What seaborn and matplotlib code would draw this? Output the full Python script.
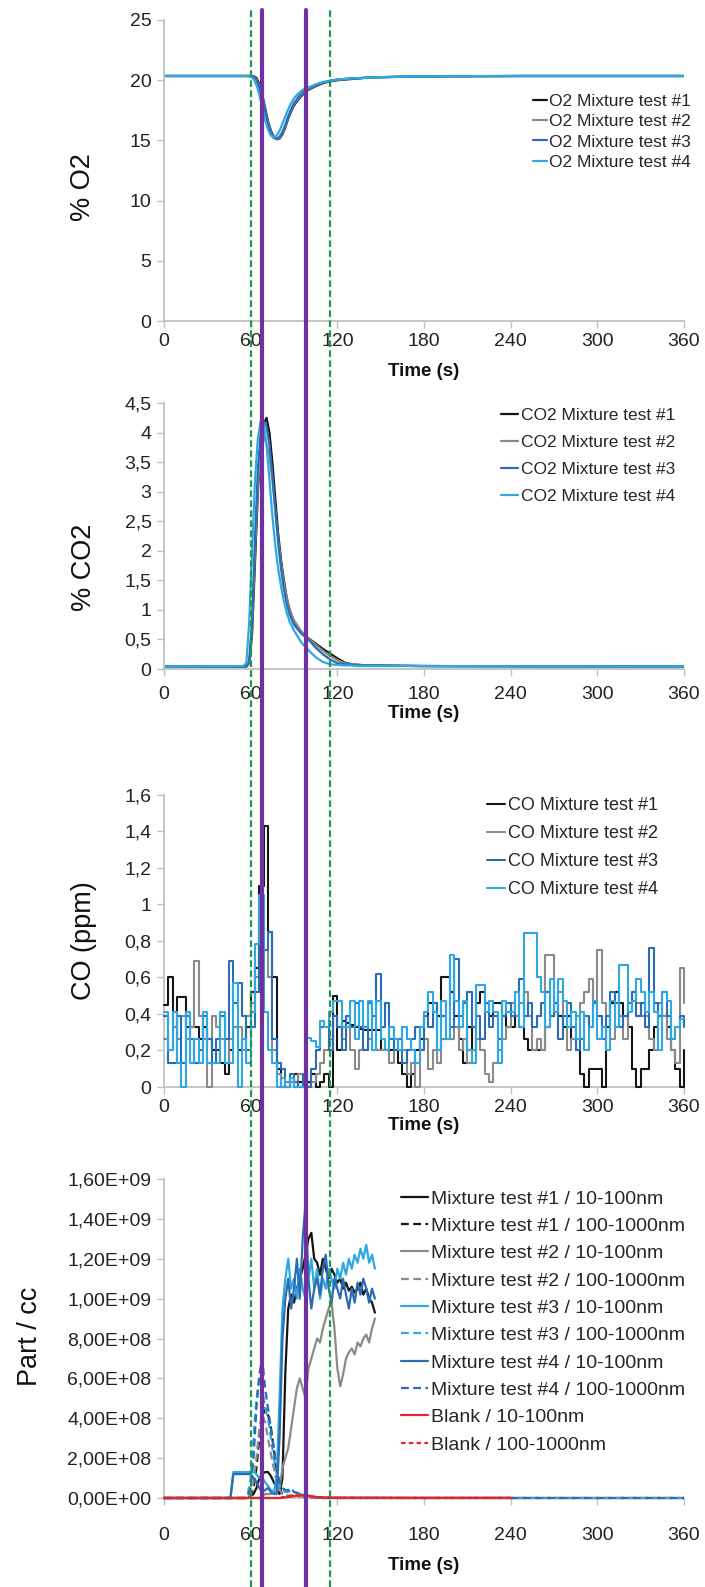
#python 3 script to plot the gas / particle time series of the mixture tests
import numpy as np
import seaborn as sns
import matplotlib.pyplot as plt
from matplotlib.ticker import FuncFormatter, MultipleLocator

sns.set_theme(style="white")
plt.rcParams['font.family'] = ['Liberation Sans', 'DejaVu Sans']

time_ticks = [0, 60, 120, 180, 240, 300, 360]
# event markers (s)
green_marks = [60, 115]
purple_marks = [67.5, 98.5]

# ---- O2 (%) ----
t_o2 = [0, 56, 58, 60, 62, 64, 66, 68, 70, 72, 74, 76, 78, 80, 82, 84, 86, 88, 90,
        93, 96, 100, 105, 110, 115, 120, 130, 140, 150, 170, 200, 250, 300, 360]
o2_1 = [20.35, 20.35, 20.35, 20.35, 20.33, 20.2, 19.7, 18.8, 17.7, 16.6, 15.8, 15.3, 15.1, 15.15, 15.5, 16.1, 16.8, 17.4, 17.9,
        18.4, 18.8, 19.2, 19.5, 19.75, 19.9, 20.0, 20.1, 20.2, 20.25, 20.3, 20.33, 20.35, 20.35, 20.35]
o2_2 = [20.35, 20.35, 20.35, 20.35, 20.3, 20.1, 19.5, 18.6, 17.5, 16.5, 15.7, 15.25, 15.1, 15.2, 15.6, 16.2, 16.9, 17.5, 18.0,
        18.5, 18.9, 19.25, 19.55, 19.8, 19.95, 20.05, 20.15, 20.2, 20.25, 20.3, 20.33, 20.35, 20.35, 20.35]
o2_3 = [20.35, 20.35, 20.35, 20.35, 20.3, 20.0, 19.4, 18.5, 17.4, 16.4, 15.6, 15.2, 15.15, 15.3, 15.7, 16.3, 17.0, 17.6, 18.1,
        18.6, 19.0, 19.3, 19.6, 19.8, 19.95, 20.05, 20.15, 20.2, 20.25, 20.3, 20.33, 20.35, 20.35, 20.35]
o2_4 = [20.35, 20.35, 20.35, 20.3, 20.1, 19.6, 18.8, 17.8, 16.7, 15.9, 15.4, 15.25, 15.4, 15.8, 16.4, 17.0, 17.6, 18.1, 18.5,
        18.9, 19.2, 19.4, 19.65, 19.85, 19.95, 20.05, 20.15, 20.2, 20.25, 20.3, 20.33, 20.35, 20.35, 20.35]

# ---- CO2 (%) ----
t_co2 = [0, 55, 57, 59, 61, 63, 65, 67, 69, 71, 73, 75, 77, 79, 81, 83, 85, 87, 90,
         95, 100, 105, 110, 115, 120, 125, 130, 135, 140, 180, 360]
co2_1 = [0.04, 0.04, 0.04, 0.1, 0.6, 1.8, 3.0, 3.8, 4.15, 4.25, 4.0, 3.5, 2.9, 2.3, 1.85, 1.5, 1.2, 1.0, 0.8,
         0.62, 0.52, 0.43, 0.34, 0.26, 0.18, 0.11, 0.08, 0.07, 0.06, 0.05, 0.04]
co2_2 = [0.04, 0.04, 0.04, 0.12, 0.7, 2.0, 3.1, 3.7, 3.95, 3.8, 3.6, 3.2, 2.7, 2.2, 1.8, 1.45, 1.2, 1.0, 0.82,
         0.64, 0.52, 0.41, 0.31, 0.22, 0.15, 0.1, 0.08, 0.07, 0.06, 0.05, 0.04]
co2_3 = [0.04, 0.04, 0.04, 0.15, 0.8, 2.2, 3.4, 4.0, 4.2, 4.1, 3.8, 3.3, 2.7, 2.15, 1.7, 1.35, 1.1, 0.92, 0.75,
         0.6, 0.5, 0.36, 0.25, 0.16, 0.1, 0.08, 0.07, 0.06, 0.06, 0.05, 0.04]
co2_4 = [0.04, 0.05, 0.1, 0.8, 2.0, 3.2, 3.9, 4.2, 4.15, 3.8, 3.2, 2.6, 2.1, 1.7, 1.4, 1.15, 0.95, 0.8, 0.65,
         0.45, 0.32, 0.2, 0.12, 0.08, 0.07, 0.06, 0.06, 0.05, 0.05, 0.05, 0.04]

# ---- CO (ppm), one reading every 3 s ----
t_co = np.arange(0, 361, 3)
co_1 = [0.45, 0.60, 0.33, 0.49, 0.49, 0.33, 0.33, 0.33, 0.26, 0.33,
        0.26, 0.20, 0.20, 0.13, 0.07, 0.20, 0.33, 0.20, 0.26, 0.33,
        0.52, 0.65, 1.10, 1.43, 0.85, 0.60, 0.10, 0.00, 0.00, 0.03,
        0.07, 0.03, 0.00, 0.03, 0.07, 0.00, 0.03, 0.07, 0.00, 0.50,
        0.20, 0.36, 0.35, 0.34, 0.33, 0.32, 0.31, 0.31, 0.31, 0.31,
        0.20, 0.20, 0.20, 0.20, 0.13, 0.07, 0.00, 0.07, 0.20, 0.26,
        0.39, 0.46, 0.46, 0.39, 0.60, 0.60, 0.52, 0.39, 0.26, 0.13,
        0.33, 0.20, 0.46, 0.52, 0.46, 0.39, 0.46, 0.46, 0.39, 0.33,
        0.33, 0.39, 0.33, 0.26, 0.20, 0.20, 0.20, 0.20, 0.33, 0.39,
        0.46, 0.39, 0.33, 0.39, 0.26, 0.20, 0.07, 0.00, 0.10, 0.10,
        0.10, 0.00, 0.33, 0.46, 0.52, 0.46, 0.39, 0.33, 0.10, 0.00,
        0.10, 0.10, 0.20, 0.33, 0.39, 0.39, 0.33, 0.20, 0.10, 0.00,
        0.20]
co_2 = [0.26, 0.20, 0.33, 0.26, 0.39, 0.26, 0.33, 0.69, 0.39, 0.26,
        0.00, 0.39, 0.33, 0.26, 0.13, 0.26, 0.33, 0.33, 0.20, 0.39,
        0.46, 0.60, 0.90, 0.75, 0.60, 0.20, 0.07, 0.00, 0.03, 0.03,
        0.00, 0.07, 0.00, 0.00, 0.03, 0.07, 0.13, 0.20, 0.26, 0.39,
        0.33, 0.26, 0.33, 0.20, 0.10, 0.20, 0.20, 0.26, 0.20, 0.20,
        0.20, 0.20, 0.13, 0.26, 0.20, 0.20, 0.07, 0.13, 0.00, 0.20,
        0.26, 0.10, 0.20, 0.13, 0.26, 0.26, 0.26, 0.33, 0.20, 0.26,
        0.13, 0.20, 0.26, 0.20, 0.07, 0.03, 0.13, 0.20, 0.26, 0.33,
        0.46, 0.39, 0.46, 0.52, 0.39, 0.20, 0.26, 0.20, 0.72, 0.72,
        0.46, 0.52, 0.39, 0.20, 0.26, 0.39, 0.46, 0.52, 0.59, 0.46,
        0.75, 0.46, 0.39, 0.26, 0.46, 0.39, 0.26, 0.46, 0.52, 0.46,
        0.39, 0.39, 0.26, 0.20, 0.46, 0.39, 0.26, 0.20, 0.13, 0.65,
        0.46]
co_3 = [0.39, 0.13, 0.13, 0.39, 0.13, 0.39, 0.26, 0.13, 0.20, 0.39,
        0.26, 0.13, 0.26, 0.39, 0.26, 0.69, 0.46, 0.57, 0.39, 0.20,
        0.33, 0.52, 0.80, 0.75, 0.85, 0.26, 0.13, 0.10, 0.00, 0.07,
        0.03, 0.00, 0.07, 0.00, 0.10, 0.20, 0.33, 0.33, 0.20, 0.39,
        0.33, 0.20, 0.39, 0.33, 0.46, 0.33, 0.20, 0.46, 0.39, 0.62,
        0.33, 0.46, 0.26, 0.20, 0.26, 0.13, 0.20, 0.26, 0.33, 0.20,
        0.39, 0.33, 0.46, 0.20, 0.39, 0.26, 0.33, 0.70, 0.39, 0.46,
        0.52, 0.33, 0.39, 0.26, 0.46, 0.33, 0.39, 0.26, 0.39, 0.46,
        0.39, 0.52, 0.59, 0.39, 0.46, 0.33, 0.39, 0.46, 0.52, 0.39,
        0.46, 0.26, 0.39, 0.46, 0.33, 0.20, 0.26, 0.39, 0.33, 0.46,
        0.39, 0.26, 0.39, 0.52, 0.46, 0.33, 0.39, 0.46, 0.52, 0.39,
        0.46, 0.33, 0.76, 0.46, 0.39, 0.52, 0.39, 0.26, 0.33, 0.39,
        0.33]
co_4 = [0.41, 0.20, 0.41, 0.13, 0.00, 0.41, 0.13, 0.26, 0.13, 0.41,
        0.13, 0.13, 0.13, 0.41, 0.13, 0.13, 0.57, 0.00, 0.26, 0.13,
        0.41, 0.78, 1.05, 0.41, 0.20, 0.13, 0.00, 0.05, 0.00, 0.05,
        0.00, 0.00, 0.00, 0.27, 0.25, 0.22, 0.36, 0.33, 0.41, 0.47,
        0.47, 0.33, 0.33, 0.47, 0.26, 0.47, 0.33, 0.47, 0.20, 0.47,
        0.26, 0.20, 0.33, 0.26, 0.20, 0.33, 0.26, 0.20, 0.13, 0.33,
        0.41, 0.52, 0.41, 0.20, 0.47, 0.26, 0.72, 0.47, 0.33, 0.47,
        0.20, 0.13, 0.56, 0.56, 0.41, 0.47, 0.41, 0.13, 0.47, 0.41,
        0.41, 0.52, 0.33, 0.84, 0.84, 0.84, 0.60, 0.52, 0.33, 0.59,
        0.41, 0.59, 0.47, 0.33, 0.41, 0.26, 0.41, 0.20, 0.33, 0.47,
        0.26, 0.33, 0.20, 0.47, 0.33, 0.67, 0.67, 0.41, 0.47, 0.59,
        0.52, 0.41, 0.52, 0.41, 0.20, 0.52, 0.47, 0.26, 0.33, 0.37,
        0.37]

# ---- particles (E+09 part/cc) ----
t_pn = np.arange(0, 147, 2)
pn_1 = [0] * 30 + [
    0.01, 0.02, 0.05, 0.10, 0.12, 0.13, 0.13, 0.11, 0.08, 0.05,
    0.02, 0.10, 0.63, 0.95, 1.02, 0.98, 1.05, 1.10, 1.15, 1.22,
    1.30, 1.33, 1.20, 1.18, 1.12, 1.20, 1.15, 1.10, 1.15, 1.12,
    1.08, 1.10, 1.05, 1.08, 1.04, 1.06, 1.03, 1.05, 1.08, 1.02,
    1.05, 1.00, 0.98, 0.93]
pn_2 = [0] * 30 + [
    0.00, 0.00, 0.00, 0.00, 0.01, 0.02, 0.02, 0.02, 0.03, 0.03,
    0.05, 0.15, 0.20, 0.25, 0.35, 0.45, 0.55, 0.60, 0.55, 0.50,
    0.65, 0.70, 0.75, 0.80, 0.78, 0.85, 0.90, 0.95, 0.98, 0.85,
    0.65, 0.56, 0.62, 0.70, 0.73, 0.75, 0.72, 0.78, 0.76, 0.80,
    0.82, 0.78, 0.85, 0.90]
pn_3 = [0] * 20 + [
    0.00, 0.00, 0.00, 0.00, 0.13, 0.13, 0.13, 0.13, 0.13, 0.13,
    0.13, 0.13, 0.12, 0.10, 0.10, 0.08, 0.06, 0.04, 0.03, 0.10,
    0.50, 0.95, 1.10, 1.20, 1.05, 1.10, 1.00, 1.15, 1.05, 1.00,
    1.10, 1.20, 1.05, 1.15, 1.00, 1.10, 1.05, 1.15, 1.10, 1.05,
    1.15, 1.10, 1.18, 1.12, 1.20, 1.15, 1.22, 1.18, 1.25, 1.20,
    1.27, 1.18, 1.22, 1.15]
pn_4 = [0] * 20 + [
    0.00, 0.00, 0.00, 0.00, 0.12, 0.12, 0.12, 0.12, 0.12, 0.12,
    0.12, 0.10, 0.08, 0.05, 0.03, 0.04, 0.05, 0.03, 0.02, 0.02,
    0.30, 0.80, 1.00, 1.10, 0.95, 1.05, 1.20, 1.00, 1.30, 1.48,
    1.10, 0.95, 1.05, 1.10, 1.02, 1.15, 1.22, 1.05, 0.98, 1.10,
    1.05, 1.00, 1.10, 1.02, 0.95, 1.05, 0.98, 1.08, 1.02, 1.10,
    1.05, 0.98, 1.05, 1.00]
t_pc = [0, 56, 58, 60, 62, 64, 66, 68, 70, 72, 74, 76, 78, 80, 82, 84, 86, 88, 90,
        95, 100, 105, 110, 120, 147, 200, 240, 300, 360]
pc_1 = [0, 0, 0, 0.01, 0.05, 0.15, 0.30, 0.40, 0.45, 0.42, 0.35, 0.25, 0.12, 0.05, 0.02, 0.01, 0.01, 0.01, 0.01,
        0.01, 0.005, 0, 0, 0, 0, 0, 0, 0, 0]
pc_2 = [0, 0, 0, 0.02, 0.08, 0.20, 0.35, 0.42, 0.38, 0.30, 0.22, 0.15, 0.08, 0.04, 0.02, 0.02, 0.01, 0.01, 0.01,
        0.01, 0, 0, 0, 0, 0, 0, 0, 0, 0]
pc_3 = [0, 0, 0.02, 0.10, 0.30, 0.50, 0.60, 0.55, 0.45, 0.40, 0.30, 0.20, 0.12, 0.06, 0.04, 0.03, 0.03, 0.04, 0.03,
        0.02, 0.01, 0.005, 0, 0, 0, 0, 0, 0, 0]
pc_4 = [0, 0, 0.01, 0.05, 0.20, 0.45, 0.62, 0.70, 0.55, 0.45, 0.35, 0.25, 0.15, 0.08, 0.05, 0.04, 0.04, 0.05, 0.03,
        0.02, 0.01, 0.005, 0, 0, 0, 0, 0, 0, 0]
t_blank = [0, 60, 80, 86, 90, 95, 100, 105, 110, 120, 180, 240]
blank_n = [0, 0, 0, 0.005, 0.01, 0.015, 0.012, 0.005, 0.003, 0.002, 0.001, 0.001]
blank_c = [0, 0, 0, 0.01, 0.015, 0.008, 0.01, 0.005, 0.002, 0.001, 0, 0]

BLACK, GREY, DBLUE, LBLUE, RED = "#141414", "#8a8a8a", "#2b6cb4", "#2ea8e2", "#e3252b"
GREEN, PURPLE = "#1f9a4c", "#7030a0"
DASH = (0, (3.5, 2))

W, H = 705, 1587
fig = plt.figure(figsize=(W / 100, H / 100), dpi=100)


def make_axes(top, bottom):
    return fig.add_axes([164 / W, 1 - bottom / H, 520 / W, (bottom - top) / H])


def comma(fmt):
    return FuncFormatter(lambda v, p: fmt(v).replace('.', ','))


def style(ax, ymax, ystep, fmt, ylabel, lab_xy, xpad, lpad):
    ax.set_xlim(0, 360)
    ax.set_ylim(0, ymax)
    ax.set_xticks(time_ticks)
    ax.yaxis.set_major_locator(MultipleLocator(ystep))
    ax.yaxis.set_major_formatter(comma(fmt))
    for s in ['top', 'right']:
        ax.spines[s].set_visible(False)
    for s in ['left', 'bottom']:
        ax.spines[s].set_color('#c0c0c0')
        ax.spines[s].set_linewidth(1.3)
    ax.tick_params(direction='out', length=5, width=1.0, color='#c0c0c0',
                   labelsize=14, labelcolor='#222222', left=True, bottom=True)
    ax.tick_params(axis='y', pad=4)
    ax.tick_params(axis='x', pad=xpad)
    ax.set_xlabel('Time (s)', fontsize=13.5, fontweight='bold', color='#111111', labelpad=lpad)
    ax.set_ylabel(ylabel, fontsize=19.5, color='#111111')
    ax.yaxis.set_label_coords(*lab_xy)


def legend(ax, x, top, hl, ls, fs=12.5):
    ax.legend(loc='upper left', bbox_to_anchor=(x / W, 1 - top / H), bbox_transform=fig.transFigure,
              frameon=False, borderpad=0, borderaxespad=0, handlelength=hl, handletextpad=0.15,
              labelspacing=ls, fontsize=fs)


# panel 1 : O2
ax1 = make_axes(20, 321)
for y, c, n in [(o2_1, BLACK, 1), (o2_2, GREY, 2), (o2_3, DBLUE, 3), (o2_4, LBLUE, 4)]:
    sns.lineplot(x=t_o2, y=y, ax=ax1, color=c, lw=1.6, label=f"O2 Mixture test #{n}")
style(ax1, 25, 5, lambda v: f"{v:g}", "% O2", (-0.131, 0.445), 4, 9)
legend(ax1, 533, 94, 0.8, 0.29)

# panel 2 : CO2
ax2 = make_axes(403, 669)
for y, c, n in [(co2_1, BLACK, 1), (co2_2, GREY, 2), (co2_3, DBLUE, 3), (co2_4, LBLUE, 4)]:
    sns.lineplot(x=t_co2, y=y, ax=ax2, color=c, lw=1.6, label=f"CO2 Mixture test #{n}")
style(ax2, 4.5, 0.5, lambda v: f"{v:g}", "% CO2", (-0.129, 0.383), 6.9, 1.5)
legend(ax2, 501, 408, 1.0, 0.68)

# panel 3 : CO
ax3 = make_axes(794.5, 1087)
for y, c, n in [(co_1, BLACK, 1), (co_2, GREY, 2), (co_3, DBLUE, 3), (co_4, LBLUE, 4)]:
    sns.lineplot(x=t_co, y=y, ax=ax3, color=c, lw=1.5, drawstyle='steps-post',
                 zorder=3, clip_on=False, label=f"CO Mixture test #{n}")
style(ax3, 1.6, 0.2, lambda v: f"{v:g}", "CO (ppm)", (-0.129, 0.5), 4, 0.7)
legend(ax3, 487, 797, 1.0, 0.61, fs=13)

# panel 4 : particles
ax4 = make_axes(1179, 1498)
series = [(t_pn, pn_1, BLACK, '-', "Mixture test #1 / 10-100nm"),
          (t_pc, pc_1, BLACK, DASH, "Mixture test #1 / 100-1000nm"),
          (t_pn, pn_2, GREY, '-', "Mixture test #2 / 10-100nm"),
          (t_pc, pc_2, GREY, DASH, "Mixture test #2 / 100-1000nm"),
          (t_pn, pn_3, LBLUE, '-', "Mixture test #3 / 10-100nm"),
          (t_pc, pc_3, LBLUE, DASH, "Mixture test #3 / 100-1000nm"),
          (t_pn, pn_4, DBLUE, '-', "Mixture test #4 / 10-100nm"),
          (t_pc, pc_4, DBLUE, DASH, "Mixture test #4 / 100-1000nm"),
          (t_blank, blank_n, RED, '-', "Blank / 10-100nm"),
          (t_blank, blank_c, RED, (0, (2, 1.5)), "Blank / 100-1000nm")]
for t, y, c, ls, lab in series:
    sns.lineplot(x=t, y=np.array(y) * 1e9, ax=ax4, color=c, lw=1.6, linestyle=ls,
                 zorder=3, clip_on=False, label=lab)
style(ax4, 1.6e9, 2e8, lambda v: f"{v:.2E}", "Part / cc", (-0.233, 0.508), 15.6, 10)
legend(ax4, 401, 1190, 1.4, 0.5, fs=14)

# event markers running through all panels (drawn from the bottom axes)
y_top = (1498 - 10) / (1498 - 1179)
y_bot = -(H - 1498) / (1498 - 1179)
for x in green_marks:
    ax4.axvline(x, ymin=y_bot, ymax=y_top, color=GREEN, lw=1.6, ls=(0, (3, 1.5)), clip_on=False, zorder=5)
for x in purple_marks:
    ax4.axvline(x, ymin=y_bot, ymax=y_top, color=PURPLE, lw=3.0, clip_on=False, zorder=5)

plt.savefig("out.png", dpi=100)
